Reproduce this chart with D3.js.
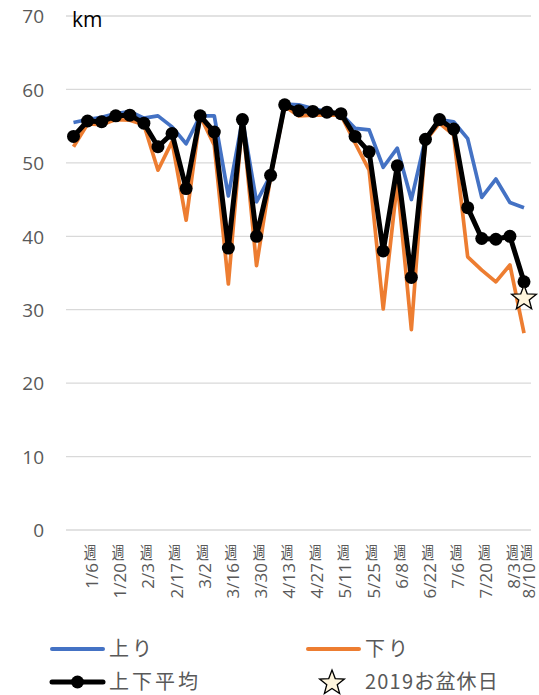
<!DOCTYPE html>
<html><head><meta charset="utf-8">
<script src="https://cdn.jsdelivr.net/npm/d3@7"></script>
<style>body{margin:0;background:#fff;} svg{display:block;}</style>
</head><body>
<svg id="c" width="539" height="695"></svg>
<script>
const weeks = ["12/30","1/6","1/13","1/20","1/27","2/3","2/10","2/17","2/24","3/2","3/9","3/16","3/23","3/30","4/6","4/13","4/20","4/27","5/4","5/11","5/18","5/25","6/1","6/8","6/15","6/22","6/29","7/6","7/13","7/20","7/27","8/3","8/10"];
const shownLabels = ["1/6","1/20","2/3","2/17","3/2","3/16","3/30","4/13","4/27","5/11","5/25","6/8","6/22","7/6","7/20","8/3","8/10"];
const up = [55.5,55.9,56.2,56.7,57.0,56.1,56.4,54.9,52.6,56.4,56.4,45.5,55.9,44.7,48.3,58.0,57.9,57.4,57.0,56.7,54.7,54.5,49.4,52.0,45.0,53.3,55.9,55.6,53.3,45.3,47.8,44.6,43.9];
const down = [52.2,55.3,55.2,55.9,55.8,55.2,49.0,52.9,42.2,56.4,52.4,33.5,55.8,36.0,48.1,57.7,56.4,56.5,56.5,56.5,52.7,49.0,30.1,47.4,27.3,53.0,55.4,53.8,37.2,35.4,33.8,36.1,26.8];
const avg = [53.6,55.7,55.6,56.4,56.5,55.4,52.2,54.0,46.5,56.4,54.2,38.4,55.9,40.0,48.3,57.9,57.1,57.0,56.9,56.7,53.6,51.5,38.0,49.6,34.4,53.2,55.9,54.6,43.9,39.7,39.6,40.0,33.8];
const obon = [{week:"8/10", value:31.7}];
const yTicks = [0,10,20,30,40,50,60,70];
const seriesNames = ["上り","下り","上下平均","2019お盆休日"];

const svg = d3.select("#c");
const x = d3.scalePoint().domain(weeks).range([73.5, 524]);
const y = d3.scaleLinear().domain([0,70]).range([530, 16]);
const gridX0 = 66, gridX1 = 531;
const numFont = "'Open Sans','Noto Sans',sans-serif";
const jpFont = "'Noto Sans CJK JP','Noto Sans',sans-serif";
const grey = "#595959";

// gridlines
svg.append("g").selectAll("line").data(yTicks).join("line")
  .attr("x1", gridX0).attr("x2", gridX1)
  .attr("y1", d => y(d)).attr("y2", d => y(d))
  .attr("stroke", "#d9d9d9").attr("stroke-width", 1.3);

// y axis labels via d3 axis
const yAxis = svg.append("g").attr("transform", "translate(50,0)")
  .call(d3.axisLeft(y).tickValues(yTicks).tickSize(0).tickPadding(6));
yAxis.select(".domain").remove();
yAxis.selectAll("text").attr("font-family", numFont).attr("font-size", 19)
  .attr("fill", grey).attr("dy", "0.36em");

// unit
svg.append("text").attr("x", 72).attr("y", 27).text("km")
  .attr("font-family", numFont).attr("font-size", 21).attr("fill", "#000");

// x labels
const xl = svg.append("g").selectAll("g").data(shownLabels).join("g")
  .attr("transform", d => `translate(${x(d)},0)`);
xl.append("text").text("週")
  .attr("text-anchor", "middle")
  .attr("font-family", jpFont).attr("font-size", 17).attr("fill", grey)
  .attr("transform", "translate(2.5,559) scale(0.75,1)");
xl.append("text").text(d => d)
  .attr("transform", "translate(10.5,563) rotate(-90)")
  .attr("text-anchor", "end")
  .attr("font-family", numFont).attr("font-size", 17).attr("fill", grey);

// lines
const line = vals => d3.line().x((d,i) => x(weeks[i])).y(d => y(d))(vals);
svg.append("path").attr("d", line(up)).attr("fill", "none")
  .attr("stroke", "#4472C4").attr("stroke-width", 3.7).attr("stroke-linejoin", "round");
svg.append("path").attr("d", line(down)).attr("fill", "none")
  .attr("stroke", "#ED7D31").attr("stroke-width", 3.7).attr("stroke-linejoin", "round");
svg.append("path").attr("d", line(avg)).attr("fill", "none")
  .attr("stroke", "#000").attr("stroke-width", 5).attr("stroke-linejoin", "round");
svg.append("g").selectAll("circle").data(avg).join("circle")
  .attr("cx", (d,i) => x(weeks[i])).attr("cy", d => y(d)).attr("r", 6.5).attr("fill", "#000");

// star
function starPath(cx, cy, R, r) {
  const pts = [];
  for (let k = 0; k < 10; k++) {
    const a = -Math.PI/2 + k*Math.PI/5;
    const rad = k % 2 === 0 ? R : r;
    pts.push([cx + rad*Math.cos(a), cy + rad*Math.sin(a)]);
  }
  return "M" + pts.map(p => p.join(",")).join("L") + "Z";
}
svg.append("g").selectAll("path").data(obon).join("path")
  .attr("d", d => starPath(x(d.week), y(d.value) + 1, 13, 5.5))
  .attr("fill", "#FFF5DC").attr("stroke", "#000").attr("stroke-width", 1.3)
  .attr("stroke-linejoin", "miter");

// legend
const lg = svg.append("g");
const lfs = 20;
lg.append("line").attr("x1", 52).attr("x2", 103).attr("y1", 649).attr("y2", 649)
  .attr("stroke", "#4472C4").attr("stroke-width", 4).attr("stroke-linecap", "round");
lg.append("line").attr("x1", 308).attr("x2", 359).attr("y1", 649).attr("y2", 649)
  .attr("stroke", "#ED7D31").attr("stroke-width", 4).attr("stroke-linecap", "round");
lg.append("line").attr("x1", 52).attr("x2", 103).attr("y1", 682).attr("y2", 682)
  .attr("stroke", "#000").attr("stroke-width", 5).attr("stroke-linecap", "round");
lg.append("circle").attr("cx", 77.5).attr("cy", 682).attr("r", 6.5).attr("fill", "#000");
lg.append("path").attr("d", starPath(332, 683, 13, 5.5))
  .attr("fill", "#FFF5DC").attr("stroke", "#000").attr("stroke-width", 1.3);
const legendItems = [
  {t: seriesNames[0], x: 109, y: 656},
  {t: seriesNames[1], x: 365, y: 656},
  {t: seriesNames[2], x: 109, y: 689},
  {t: seriesNames[3], x: 365, y: 689}
];
lg.selectAll("text").data(legendItems).join("text")
  .attr("x", d => d.x).attr("y", d => d.y).text(d => d.t)
  .attr("font-family", jpFont).attr("font-size", lfs).attr("fill", grey)
  .attr("letter-spacing", d => d.t === "2019お盆休日" ? 1.2 : 3);
</script>
</body></html>
